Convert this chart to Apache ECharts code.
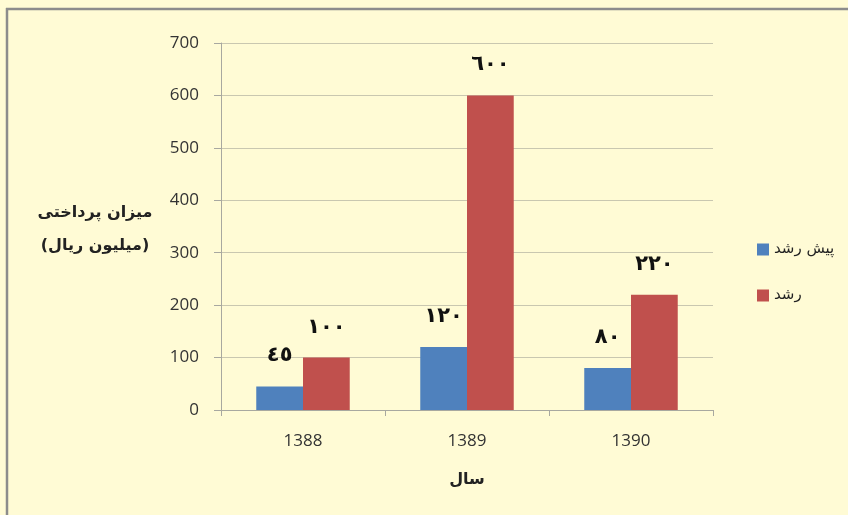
<!DOCTYPE html>
<html>
<head>
<meta charset="utf-8">
<script src="https://cdn.jsdelivr.net/npm/echarts@6/dist/echarts.min.js"></script>
<style>
    html, body { margin: 0; padding: 0; background: #fffbd5; overflow: hidden; }
    #chart { width: 848px; height: 515px; }
</style>
</head>
<body>
<div id="chart"></div>
<script>
const years = ["1388", "1389", "1390"];
const preGrowth = [45, 120, 80];
const growth = [100, 600, 220];
const seriesNames = ["پیش رشد", "رشد"];
const yTicks = { min: 0, max: 700, step: 100 };

// values shown with arabic-indic digits like the original
const toArabic = (n) => String(n).replace(/\d/g, (d) => "٠١٢٣٤٥٦٧٨٩"[d]);

const barLabel = {
    show: true,
    position: "top",
    distance: 20,
    fontFamily: "DejaVu Sans",
    fontWeight: "bold",
    fontSize: 21,
    color: "#111",
    formatter: (p) => toArabic(p.value),
};

const titleText = (txt, x, y) => ({
    type: "text",
    x: x,
    y: y,
    style: {
        text: txt,
        fontFamily: "DejaVu Sans",
        fontWeight: "bold",
        fontSize: 16,
        fill: "#222",
        align: "center",
        verticalAlign: "middle",
    },
});

const borderLine = (x1, y1, x2, y2) => ({
    type: "line",
    shape: { x1: x1, y1: y1, x2: x2, y2: y2 },
    style: { stroke: "#8c8c8c", lineWidth: 2.5 },
    silent: true,
});

const chart = echarts.init(document.querySelector("#chart"));
chart.setOption({
    backgroundColor: "#fffbd5",
    animation: false,
    grid: { left: 221, right: 135, top: 43, bottom: 105 },
    legend: {
        orient: "vertical",
        left: 752,
        top: 237,
        itemWidth: 12,
        itemHeight: 12,
        itemGap: 31,
        icon: "rect",
        textStyle: { fontFamily: "DejaVu Sans", fontSize: 15, color: "#222" },
        data: seriesNames,
    },
    xAxis: {
        type: "category",
        data: years,
        axisLine: { lineStyle: { color: "#a8a8a0", width: 1 } },
        axisTick: { show: true, length: 6, lineStyle: { color: "#a8a8a0" } },
        axisLabel: { margin: 23, fontFamily: "Open Sans", fontSize: 17, color: "#333" },
    },
    yAxis: {
        type: "value",
        min: yTicks.min,
        max: yTicks.max,
        interval: yTicks.step,
        axisLine: { show: true, lineStyle: { color: "#a8a8a0", width: 1 } },
        axisTick: { show: true, length: 7, lineStyle: { color: "#a8a8a0" } },
        axisLabel: { margin: 22, fontFamily: "Open Sans", fontSize: 17, color: "#333" },
        splitLine: { lineStyle: { color: "#c9c7b0", width: 1 } },
    },
    series: [
        {
            name: seriesNames[0],
            type: "bar",
            data: preGrowth,
            itemStyle: { color: "#4f81bd" },
            barGap: "0%",
            barCategoryGap: "43%",
            label: barLabel,
        },
        {
            name: seriesNames[1],
            type: "bar",
            data: growth,
            itemStyle: { color: "#c0504d" },
            label: barLabel,
        },
    ],
    graphic: [
        borderLine(7, 8, 7, 515),
        borderLine(6, 9, 848, 9),
        titleText("میزان پرداختی", 95, 213),
        titleText("(میلیون ریال)", 95, 246),
        titleText("سال", 467, 480),
    ],
});
</script>
</body>
</html>
